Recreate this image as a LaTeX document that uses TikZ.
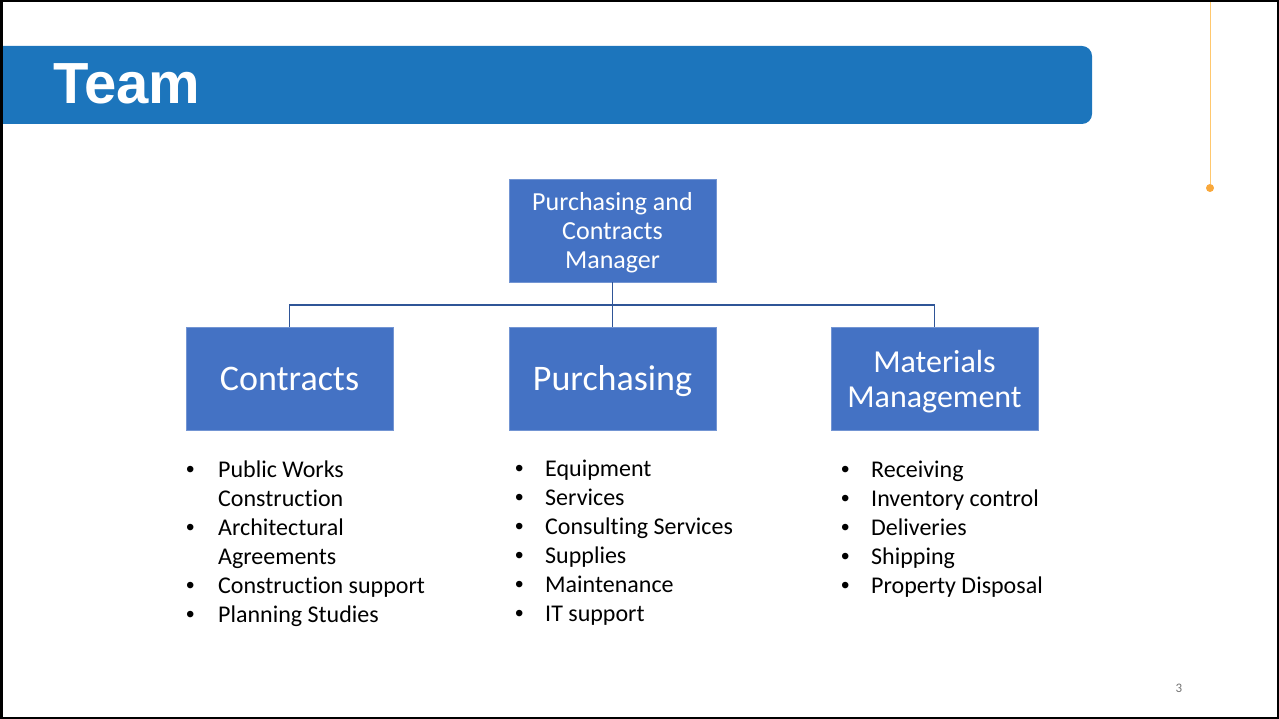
\documentclass[tikz,border=0pt]{standalone}
\usepackage{fontspec}
\setmainfont{Carlito}[Ligatures=NoCommon]
\newfontfamily\titlefont{Liberation Sans}
\usetikzlibrary{calc,positioning}

\definecolor{barblue}{RGB}{28,117,188}
\definecolor{boxblue}{RGB}{68,114,196}
\definecolor{linkblue}{RGB}{47,85,151}
\definecolor{tickorange}{RGB}{255,200,110}
\definecolor{dotorange}{RGB}{249,168,59}

\newcommand{\blt}{{\titlefont\textbullet}}

\tikzset{
  unit/.style={fill=boxblue,draw=boxblue!75!white,text=white,align=center,
    minimum width=207pt,minimum height=103pt,inner sep=0pt},
  link/.style={draw=linkblue,line width=1.3pt},
  items/.style={anchor=north west,inner sep=0pt,font=\fontsize{24}{29}\selectfont}
}

\begin{document}
\begin{tikzpicture}[x=1pt,y=-1pt]
  \useasboundingbox (0,0) rectangle (1279,719);
  \clip (0,0) rectangle (1279,719);

  \fill[barblue,rounded corners=10pt] (-20,46) rectangle (1092,124);
  \node[anchor=base west,inner sep=0pt,text=white,
    font=\titlefont\bfseries\fontsize{58}{62}\selectfont] (title) at (53,104) {Team};

  \node[circle,fill=dotorange,inner sep=0pt,minimum size=8pt] (dot) at (1210,188) {};
  \coordinate (dottop) at (1210,0);
  \draw[tickorange,line width=1pt] (dottop) -- (dot);

  \node[unit,text depth=0pt,font=\fontsize{26}{29}\selectfont] (mgr) at (612.5,230.5) {Purchasing and\\Contracts\\Manager};
  \node[unit,font=\fontsize{36}{40}\selectfont] (contracts) at (289.5,378.5) {Contracts};
  \node[unit,text depth=0pt,font=\fontsize{36}{40}\selectfont] (purch) at (612.5,378.5) {Purchasing};
  \node[unit,text depth=0pt,font=\fontsize{32}{35}\selectfont] (materials) at (934.5,378.5) {Materials\\Management};

  \coordinate (bus) at (612.5,305);
  \draw[link] (mgr.south) -- (bus);
  \draw[link] (contracts.north) |- (bus) -| (materials.north);
  \draw[link] (bus) -- (purch.north);

  \node[items] (contractslist) at (186,457) {%
    \begin{tabular}{@{}p{32pt}@{}l@{}}
      \blt & Public Works\\
           & Construction\\
      \blt & Architectural\\
           & Agreements\\
      \blt & Construction support\\
      \blt & Planning Studies
    \end{tabular}};
  \node[items] (purchlist) at (515,456) {%
    \begin{tabular}{@{}p{30pt}@{}l@{}}
      \blt & Equipment\\
      \blt & Services\\
      \blt & Consulting Services\\
      \blt & Supplies\\
      \blt & Maintenance\\
      \blt & IT support
    \end{tabular}};
  \node[items] (materialslist) at (841,457) {%
    \begin{tabular}{@{}p{30pt}@{}l@{}}
      \blt & Receiving\\
      \blt & Inventory control\\
      \blt & Deliveries\\
      \blt & Shipping\\
      \blt & Property Disposal
    \end{tabular}};

  \node[text=black!55,font=\fontsize{13}{15}\selectfont] (pagenum) at (1179,688) {3};

  \draw[line width=2.5pt] (1.25,1.25) rectangle (1277.75,717.75);
\end{tikzpicture}
\end{document}
